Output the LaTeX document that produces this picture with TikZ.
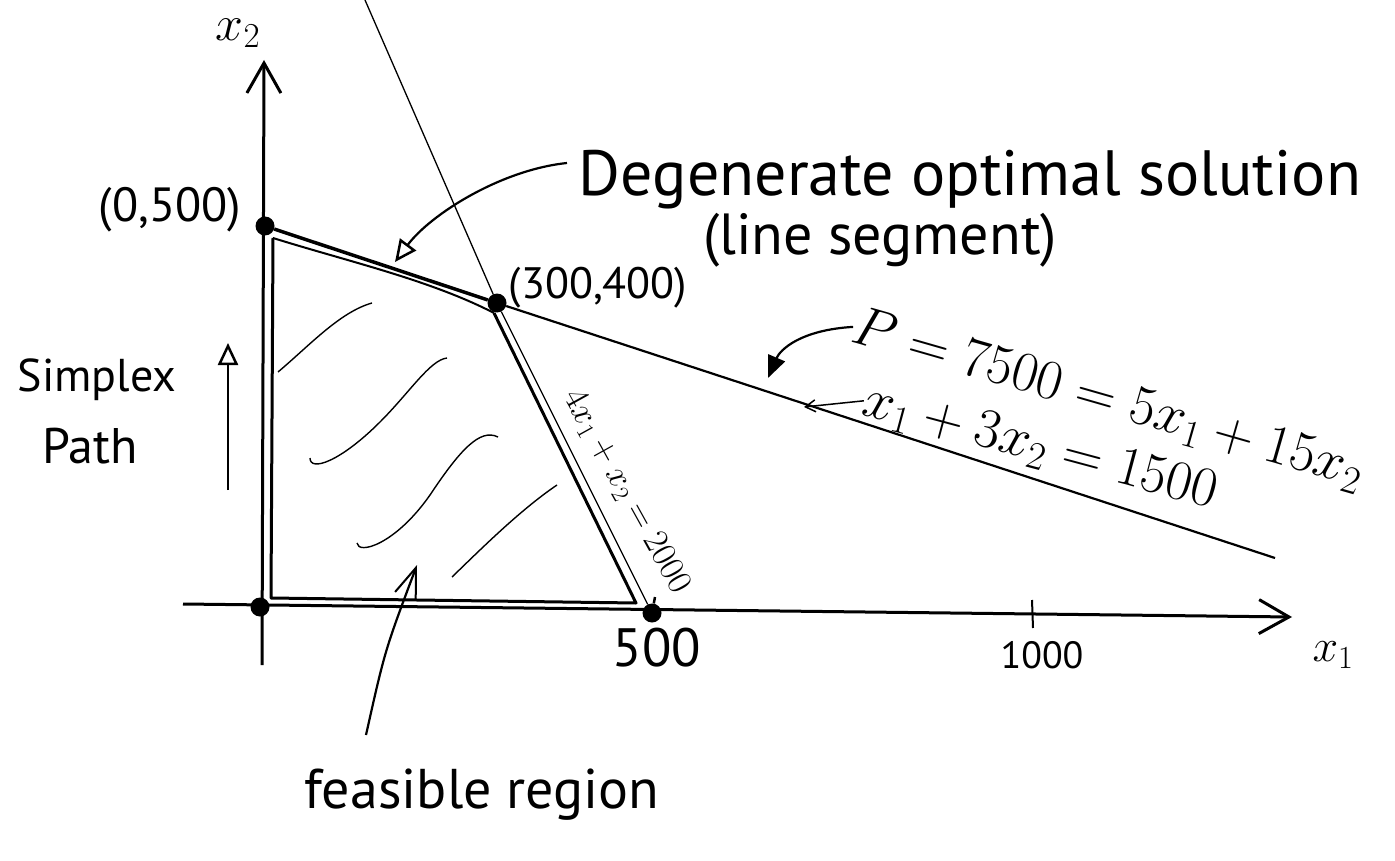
\RequirePackage{fix-cm}
\documentclass[tikz,border=0pt]{standalone}
\usepackage{fontspec}
\setmainfont{PT Sans}
\usetikzlibrary{arrows.meta}
\begin{document}
\begin{tikzpicture}[x=1pt,y=-1pt,
  dot/.style={circle,fill=black,inner sep=0pt,minimum size=19pt},
  lbl/.style={inner sep=0pt},
  axis/.style={line width=3pt},
  region/.style={line width=3pt,line join=round},
  thinline/.style={line width=1.3pt},
  hatch/.style={line width=1.4pt},
  note/.style={line width=2.2pt},
  vhead/.style={-{Straight Barb[length=30pt,width=34pt,line width=3pt]}},
  openhead/.style={-{Triangle[open,length=22pt,width=20pt,line width=2.5pt]}},
  fillhead/.style={-{Triangle[length=22pt,width=18pt]}},
  bigtext/.style={lbl,font=\fontsize{64}{68}\selectfont},
  midtext/.style={lbl,font=\fontsize{46}{50}\selectfont},
  smalltext/.style={lbl,font=\fontsize{38}{42}\selectfont}
]
\useasboundingbox (0,0) rectangle (1395,861);
% points
\node[dot] (O) at (260,607) {};
\node[dot] (A) at (265,226) {};
\node[dot] (B) at (497,303) {};
\node[dot] (C) at (652,613) {};
\coordinate (x2bot) at (262,665);
\coordinate (x2top) at (264,60);
\coordinate (x1left) at (183,604);
\coordinate (x1right) at (1292,617);
\coordinate (L1end) at (1275,558);
\coordinate (L2top) at (365,0);
\coordinate (t1a) at (1032,600);
\coordinate (t1b) at (1033,628);
\coordinate (t5) at (655,597);
\coordinate (r1) at (273,238);
\coordinate (r2) at (271,598);
\coordinate (r3) at (636,603);
\coordinate (r4) at (494,313);
% axes
\draw[axis,vhead] (x2bot) -- (x2top);
\draw[axis,vhead] (x1left) -- (x1right);
\draw[line width=2pt] (t1a) -- (t1b);
\draw[line width=2.5pt] (t5) -- (C);
% constraint lines
\draw[line width=3.5pt] (A) -- (B);
\draw[line width=2.2pt] (B) -- (L1end);
\draw[thinline] (L2top) -- (B) -- (C);
% feasible region outline
\draw[region] (r1) -- (r2) -- (r3) -- (r4);
\draw[line width=2pt] (r1) .. controls (350,262) and (430,280) .. (r4);
% hatching
\draw[hatch] (278,372) .. controls (310,345) and (340,312) .. (372,303);
\draw[hatch] (310,458) .. controls (310,472) and (340,462) .. (380,422) .. controls (410,392) and (430,360) .. (447,358);
\draw[hatch] (357,543) .. controls (358,555) and (395,545) .. (430,495) .. controls (460,450) and (480,428) .. (498,437);
\draw[hatch] (452,577) .. controls (480,550) and (520,510) .. (557,485);
% labels
\node[lbl,font=\fontsize{50}{54}\selectfont] (xtwo) at (238,33) {$x_2$};
\node[midtext] (xone) at (1333,655) {$x_1$};
\node[lbl,font=\fontsize{54}{58}\selectfont] (n500) at (657,648) {500};
\node[smalltext] (n1000) at (1042,655) {1000};
\node[lbl,font=\fontsize{48}{52}\selectfont] (lA) at (170,210) {(0,500)};
\node[lbl,font=\fontsize{44}{48}\selectfont] (lB) at (598,288) {(300,400)};
\node[bigtext] (deg1) at (970,180) {Degenerate optimal solution};
\node[lbl,font=\fontsize{58}{62}\selectfont] (deg2) at (880,240) {(line segment)};
\node[midtext] (simplex) at (97,380) {Simplex};
\node[lbl,font=\fontsize{50}{54}\selectfont] (path) at (90,446) {Path};
\node[lbl,font=\fontsize{56}{60}\selectfont] (feas) at (482,795) {feasible region};
\node[lbl,font=\fontsize{56}{60}\selectfont,rotate=-16] (obj) at (1108,400) {$P=7500=5x_1+15x_2$};
\node[lbl,font=\fontsize{56}{60}\selectfont,rotate=-15] (c1) at (1040,448) {$x_1+3x_2=1500$};
\node[lbl,font=\fontsize{35}{38}\selectfont,rotate=-61] (c2) at (626,492) {$4x_1+x_2=2000$};
% annotation arrows
\coordinate (d0) at (567,163);
\coordinate (d1) at (395,262);
\draw[note,openhead] (d0) .. controls (500,170) and (430,215) .. (d1);
\coordinate (p1) at (768,378);
\draw[note,fillhead] (obj.west) .. controls (800,330) and (780,350) .. (p1);
\coordinate (c1t) at (804,407);
\draw[line width=1.5pt,-{Straight Barb[length=10pt,width=12pt]}] (c1.west) -- (c1t);
\coordinate (s0) at (228,490);
\coordinate (s1) at (228,343);
\draw[note,openhead] (s0) -- (s1);
\coordinate (f0) at (366,735);
\coordinate (f1) at (417,565);
\draw[note,-{Straight Barb[length=30pt,width=22pt,line width=2pt]}] (f0) .. controls (385,650) .. (f1);
\end{tikzpicture}
\end{document}
